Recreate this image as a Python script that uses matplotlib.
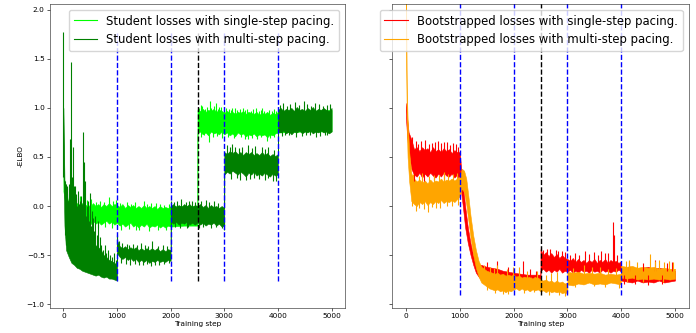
import matplotlib
matplotlib.use("Agg")
from matplotlib import pyplot as plt
from matplotlib.lines import Line2D

# ---- left panel: student losses -------------------------------------------
# bands: (step, lower edge, upper edge) of the noisy trace
lg_steps = [0, 40, 80, 150, 200, 250, 300, 350, 400, 450,
            500, 550, 600, 650, 700, 750, 800, 850, 900, 950,
            1000, 1050, 1100, 1150, 1200, 1250, 1300, 1350, 1400, 1450,
            1500, 1550, 1600, 1650, 1700, 1750, 1800, 1850, 1900, 1950,
            2000, 2250, 2499, 2500, 2550, 2600, 2650, 2700, 2750, 2800,
            2850, 2900, 2950, 3000, 3050, 3100, 3150, 3200, 3250, 3300,
            3350, 3400, 3450, 3500, 3550, 3600, 3650, 3700, 3750, 3800,
            3850, 3900, 3950, 4000, 4500, 5000]
lg_lo = [0.15, 0.0, -0.12, -0.15, -0.17, -0.14, -0.17, -0.15, -0.18, -0.16,
         -0.19, -0.15, -0.18, -0.16, -0.19, -0.17, -0.15, -0.18, -0.16, -0.19,
         -0.17, -0.2, -0.18, -0.21, -0.19, -0.17, -0.21, -0.19, -0.22, -0.19,
         -0.21, -0.18, -0.22, -0.2, -0.21, -0.19, -0.22, -0.2, -0.22, -0.2,
         -0.21, -0.2, -0.2, 0.74, 0.76, 0.73, 0.75, 0.72, 0.76, 0.74,
         0.75, 0.73, 0.76, 0.73, 0.75, 0.72, 0.74, 0.71, 0.75, 0.73,
         0.74, 0.71, 0.73, 0.72, 0.74, 0.71, 0.73, 0.72, 0.73, 0.7,
         0.73, 0.72, 0.74, 0.75, 0.76, 0.76]
lg_hi = [0.3, 0.22, 0.06, 0.02, 0.0, 0.03, 0.01, 0.03, 0.0, 0.02,
         -0.01, 0.03, 0.0, 0.02, -0.01, 0.02, 0.0, 0.03, 0.0, 0.02,
         0.01, -0.01, 0.02, -0.02, 0.01, -0.01, 0.01, -0.02, 0.0, -0.02,
         0.01, -0.02, 0.0, -0.02, 0.0, -0.03, 0.0, -0.02, -0.01, -0.02,
         0.0, 0.0, 0.0, 0.98, 0.97, 0.99, 0.96, 0.98, 0.97, 0.99,
         0.96, 0.98, 0.97, 0.95, 0.97, 0.95, 0.96, 0.94, 0.96, 0.95,
         0.97, 0.94, 0.96, 0.95, 0.94, 0.96, 0.93, 0.95, 0.94, 0.96,
         0.93, 0.95, 0.94, 0.96, 0.97, 0.98]
# spikes: (step, from, to)
lg_spk_steps = ([300, 520, 850, 1180, 1400, 1500, 1720, 2560, 2710, 2736,
                 2850, 2900, 3150, 3450, 3700, 3796]
                + [120, 180, 240, 380, 440, 600, 680, 760, 920, 980,
                   1060, 1260, 1330, 1560, 1630, 1800, 1880, 1960]
                + [160, 330, 470, 640, 780, 900, 1080, 1230, 1350, 1600, 1760, 1920]
                + [2530, 2590, 2640, 2680, 2760, 2810, 2880, 2930, 2990, 3040,
                   3090, 3130, 3190, 3240, 3290, 3340, 3390, 3430, 3490, 3540,
                   3590, 3640, 3690, 3740, 3830, 3880, 3930, 3970]
                + [2570, 2630, 2790, 2870, 2960, 3070, 3180, 3310, 3380, 3520,
                   3610, 3680, 3860, 3920])
lg_spk_lo = ([-0.05, -0.05, -0.05, -0.1, -0.24, -0.1, -0.1, 0.85, 0.65, 0.85,
              0.85, 0.85, 0.85, 0.68, 0.85, 0.66]
             + [-0.05] * 18
             + [-0.22, -0.21, -0.23, -0.22, -0.21, -0.22, -0.24, -0.23, -0.24, -0.25,
                -0.24, -0.24]
             + [0.85] * 28
             + [0.7, 0.72, 0.7, 0.71, 0.69, 0.7, 0.69, 0.7, 0.68, 0.69,
                0.68, 0.7, 0.69, 0.7])
lg_spk_hi = ([0.10, 0.07, 0.09, 0.04, -0.1, 0.05, 0.03, 1.03, 0.85, 1.07,
              1.05, 1.01, 1.0, 0.85, 1.0, 0.85]
             + [0.06, 0.05, 0.04, 0.05, 0.06, 0.04, 0.05, 0.04, 0.05, 0.06,
                0.03, 0.02, 0.04, 0.02, 0.03, 0.02, 0.01, 0.02]
             + [-0.1] * 12
             + [1.0, 1.02, 0.99, 1.01, 1.0, 1.02, 0.99, 1.01, 0.98, 1.0,
                0.99, 0.98, 1.0, 0.98, 0.99, 1.0, 0.98, 0.99, 0.97, 0.99,
                1.0, 0.97, 0.98, 0.97, 0.98, 0.97, 0.99, 0.97]
             + [0.85] * 14)

dg_steps = [0, 20, 50, 100, 150, 200, 250, 300, 350, 400,
            450, 500, 550, 600, 650, 700, 750, 800, 850, 900,
            950, 999, 1000, 1050, 1100, 1150, 1200, 1250, 1300, 1350,
            1400, 1450, 1500, 1550, 1600, 1650, 1700, 1750, 1800, 1850,
            1900, 1950, 1999, 2000, 2050, 2100, 2150, 2200, 2250, 2300,
            2350, 2400, 2450, 2500, 2550, 2600, 2650, 2700, 2750, 2800,
            2850, 2900, 2950, 2999, 3000, 3050, 3100, 3150, 3200, 3250,
            3300, 3350, 3400, 3450, 3500, 3550, 3600, 3650, 3700, 3750,
            3800, 3850, 3900, 3950, 3999, 4000, 4050, 4100, 4150, 4200,
            4250, 4300, 4350, 4400, 4450, 4500, 4550, 4600, 4650, 4700,
            4750, 4800, 4850, 4900, 4950, 5000]
dg_lo = [0.4, -0.2, -0.45, -0.52, -0.58, -0.6, -0.63, -0.64, -0.66, -0.67,
         -0.68, -0.69, -0.7, -0.71, -0.7, -0.72, -0.73, -0.72, -0.74, -0.74,
         -0.75, -0.76, -0.48, -0.52, -0.54, -0.52, -0.55, -0.53, -0.56, -0.54,
         -0.57, -0.55, -0.57, -0.55, -0.58, -0.56, -0.57, -0.55, -0.57, -0.56,
         -0.57, -0.55, -0.56, -0.16, -0.18, -0.16, -0.19, -0.17, -0.18, -0.16,
         -0.19, -0.17, -0.19, -0.17, -0.19, -0.17, -0.2, -0.18, -0.19, -0.17,
         -0.2, -0.18, -0.21, -0.2, 0.32, 0.35, 0.33, 0.36, 0.34, 0.32,
         0.35, 0.33, 0.3, 0.34, 0.32, 0.35, 0.31, 0.33, 0.31, 0.34,
         0.32, 0.3, 0.33, 0.31, 0.32, 0.76, 0.75, 0.77, 0.74, 0.76,
         0.73, 0.76, 0.75, 0.77, 0.74, 0.76, 0.75, 0.77, 0.74, 0.76,
         0.75, 0.77, 0.75, 0.76, 0.74, 0.76]
dg_hi = [1.0, 0.25, 0.15, -0.02, -0.08, -0.12, -0.18, -0.22, -0.26, -0.3,
         -0.32, -0.35, -0.38, -0.4, -0.42, -0.45, -0.5, -0.52, -0.55, -0.56,
         -0.58, -0.6, -0.35, -0.41, -0.43, -0.41, -0.44, -0.42, -0.44, -0.42,
         -0.45, -0.43, -0.45, -0.43, -0.45, -0.43, -0.45, -0.43, -0.46, -0.44,
         -0.46, -0.44, -0.45, 0.0, 0.02, -0.01, 0.01, -0.01, 0.02, 0.0,
         0.02, -0.01, 0.01, 0.0, 0.02, -0.01, 0.01, -0.02, 0.01, -0.01,
         0.0, -0.02, 0.0, -0.02, 0.55, 0.53, 0.56, 0.54, 0.56, 0.53,
         0.55, 0.52, 0.55, 0.53, 0.55, 0.52, 0.54, 0.52, 0.55, 0.52,
         0.54, 0.51, 0.53, 0.51, 0.53, 0.98, 1.0, 0.97, 0.99, 0.98,
         1.0, 0.97, 1.01, 0.98, 0.99, 0.97, 1.0, 0.98, 1.01, 0.97,
         0.99, 0.98, 1.0, 0.98, 0.97, 1.0]
dg_spk_steps = ([0, 30, 60, 85, 110, 128, 138, 160, 178, 200,
                 225, 250, 275, 300, 325, 345, 368, 380, 395, 410,
                 430, 455, 475, 490, 515, 540, 565, 590, 620, 650,
                 680, 710, 740, 770, 800, 830, 870, 910, 950, 985,
                 1000, 1300, 1450, 1647, 1850, 1400, 1700,
                 2000, 2200, 2400, 2650, 2300, 2950,
                 3050, 3200, 3450, 3700, 3400, 3650, 3900, 3960,
                 4100, 4320, 4480, 4695, 4910, 4200, 4600, 4910]
                + [1040, 1100, 1180, 1230, 1380, 1520, 1580, 1760, 1930]
                + [1070, 1160, 1250, 1330, 1480, 1560, 1640, 1780, 1880, 1970]
                + [2060, 2120, 2280, 2350, 2460, 2560, 2720, 2800, 2880]
                + [2080, 2180, 2330, 2520, 2600, 2760, 2850, 2990]
                + [3100, 3150, 3280, 3330, 3520, 3580, 3760, 3820, 3930]
                + [3120, 3230, 3300, 3480, 3560, 3760, 3820]
                + [4040, 4160, 4230, 4400, 4550, 4620, 4760, 4840, 4970]
                + [4070, 4130, 4330, 4450, 4520, 4700, 4780, 4870]
                + [45, 75, 95, 145, 190, 215, 240, 265, 290, 315, 355, 440, 505, 555])
dg_spk_lo = ([0.3, -0.3, -0.3, -0.3, -0.3, -0.3, -0.3, -0.3, -0.3, -0.3,
              -0.3, -0.4, -0.4, -0.4, -0.4, -0.4, -0.4, -0.4, -0.4, -0.4,
              -0.4, -0.4, -0.45, -0.45, -0.45, -0.45, -0.5, -0.5, -0.5, -0.5,
              -0.5, -0.55, -0.55, -0.55, -0.6, -0.6, -0.6, -0.6, -0.6, -0.62,
              -0.45, -0.45, -0.45, -0.45, -0.45, -0.5, -0.5,
              -0.1, -0.1, -0.1, -0.1, -0.1, -0.1,
              0.45, 0.45, 0.45, 0.45, 0.4, 0.4, 0.4, 0.4,
              0.85, 0.85, 0.85, 0.85, 0.85, 0.85, 0.85, 0.85]
             + [-0.5] * 9
             + [-0.58, -0.59, -0.6, -0.59, -0.6, -0.59, -0.61, -0.6, -0.59, -0.58]
             + [-0.1] * 9
             + [-0.21, -0.22, -0.21, -0.22, -0.21, -0.22, -0.21, -0.24]
             + [0.43] * 9
             + [0.28, 0.29, 0.27, 0.28, 0.29, 0.27, 0.29]
             + [0.87] * 9
             + [0.71, 0.72, 0.7, 0.71, 0.72, 0.7, 0.71, 0.72]
             + [-0.4] * 14)
dg_spk_hi = ([1.77, 0.25, 0.2, 0.05, 0.22, 0.68, 1.47, 0.3, 0.6, 0.1,
              0.2, 0.0, 0.15, -0.05, 0.1, -0.1, 0.75, 0.45, 0.0, 0.25,
              -0.1, 0.05, -0.15, 0.13, -0.2, -0.05, -0.25, -0.1, -0.3, -0.15,
              -0.32, -0.4, -0.45, -0.4, -0.48, -0.45, -0.5, -0.52, -0.48, -0.55,
              -0.3, -0.39, -0.38, -0.36, -0.4, -0.6, -0.6,
              0.05, 0.07, 0.05, 0.06, -0.22, -0.22,
              0.62, 0.6, 0.62, 0.6, 0.27, 0.28, 0.26, 0.25,
              1.05, 1.06, 1.07, 1.05, 1.03, 0.72, 0.72, 0.72]
             + [-0.36, -0.38, -0.39, -0.4, -0.4, -0.4, -0.41, -0.41, -0.41]
             + [-0.5] * 10
             + [0.04, 0.05, 0.04, 0.05, 0.04, 0.05, 0.04, 0.05, 0.03]
             + [-0.1] * 8
             + [0.6, 0.63, 0.59, 0.6, 0.59, 0.61, 0.58, 0.6, 0.57]
             + [0.43] * 7
             + [1.03, 1.02, 1.04, 1.03, 1.04, 1.02, 1.04, 1.02, 1.04]
             + [0.87] * 8
             + [0.22, 0.12, 0.18, 0.1, 0.2, 0.05, 0.12, 0.08, 0.02, 0.05, 0.02, 0.0, -0.08, -0.12])

# ---- right panel: bootstrapped losses -------------------------------------
red_steps = [0, 20, 50, 100, 150, 200, 250, 300, 350, 400,
             450, 500, 550, 600, 650, 700, 750, 800, 850, 900,
             950, 1000, 1030, 1060, 1100, 1150, 1200, 1250, 1300, 1350,
             1400, 1500, 1600, 1700, 1800, 1900, 2000, 2250, 2499, 2500,
             2550, 2600, 2650, 2700, 2750, 2800, 2850, 2900, 2950, 3000,
             3050, 3100, 3150, 3200, 3250, 3300, 3350, 3400, 3450, 3500,
             3550, 3600, 3650, 3700, 3750, 3800, 3850, 3900, 3950, 3999,
             4000, 4100, 4200, 4300, 4400, 4500, 4600, 4700, 4800, 4900,
             5000]
red_lo = [0.9, 0.72, 0.55, 0.38, 0.32, 0.3, 0.34, 0.29, 0.33, 0.3,
          0.34, 0.31, 0.29, 0.33, 0.3, 0.34, 0.31, 0.3, 0.33, 0.29,
          0.32, 0.25, 0.12, -0.02, -0.22, -0.38, -0.5, -0.6, -0.68, -0.72,
          -0.75, -0.77, -0.78, -0.78, -0.79, -0.8, -0.8, -0.8, -0.8, -0.66,
          -0.64, -0.67, -0.65, -0.68, -0.65, -0.67, -0.64, -0.68, -0.66, -0.67,
          -0.65, -0.68, -0.66, -0.68, -0.65, -0.67, -0.66, -0.68, -0.65, -0.67,
          -0.66, -0.68, -0.65, -0.67, -0.66, -0.68, -0.66, -0.67, -0.65, -0.67,
          -0.76, -0.77, -0.78, -0.76, -0.78, -0.77, -0.78, -0.76, -0.78, -0.77,
          -0.76]
red_hi = [1.05, 0.9, 0.75, 0.68, 0.58, 0.6, 0.56, 0.6, 0.57, 0.59,
          0.55, 0.6, 0.56, 0.58, 0.55, 0.59, 0.56, 0.58, 0.54, 0.57,
          0.55, 0.55, 0.35, 0.2, 0.0, -0.22, -0.38, -0.5, -0.56, -0.6,
          -0.6, -0.62, -0.63, -0.64, -0.66, -0.67, -0.68, -0.7, -0.7, -0.44,
          -0.5, -0.47, -0.51, -0.48, -0.52, -0.49, -0.53, -0.5, -0.53, -0.54,
          -0.56, -0.53, -0.57, -0.54, -0.57, -0.55, -0.58, -0.55, -0.57, -0.54,
          -0.58, -0.55, -0.57, -0.54, -0.58, -0.55, -0.57, -0.56, -0.58, -0.56,
          -0.62, -0.63, -0.62, -0.64, -0.63, -0.62, -0.64, -0.63, -0.64, -0.65,
          -0.66]
red_spk_steps = ([180, 350, 480, 600, 760, 880,
                  1500, 1700, 1900, 2168, 2300, 2420, 2500,
                  2620, 2780, 2900, 3150, 3320, 3500, 3620, 3760, 3843, 3870,
                  4150, 4400, 4620, 4850, 4950]
                 + [120, 230, 280, 420, 540, 660, 710, 820, 930, 970]
                 + [150, 330, 520, 700]
                 + [2550, 2680, 2830, 2960, 3050, 3220, 3400, 3560, 3700, 3930]
                 + [4050, 4250, 4500, 4750])
red_spk_lo = ([0.5, 0.5, 0.5, 0.5, 0.5, 0.5,
               -0.65, -0.65, -0.68, -0.7, -0.72, -0.72, -0.5,
               -0.55, -0.55, -0.55, -0.58, -0.58, -0.58, -0.58, -0.58, -0.58, -0.58,
               -0.66, -0.66, -0.66, -0.66, -0.66]
              + [0.45] * 10
              + [0.26, 0.26, 0.27, 0.28]
              + [-0.6] * 10
              + [-0.8, -0.8, -0.81, -0.8])
red_spk_hi = ([0.66, 0.67, 0.64, 0.66, 0.65, 0.64,
               -0.57, -0.56, -0.62, -0.56, -0.64, -0.66, -0.42,
               -0.44, -0.45, -0.46, -0.48, -0.46, -0.47, -0.46, -0.48, -0.16, -0.3,
               -0.56, -0.58, -0.55, -0.58, -0.57]
              + [0.7, 0.63, 0.66, 0.63, 0.65, 0.64, 0.65, 0.62, 0.63, 0.6]
              + [0.45] * 4
              + [-0.45, -0.44, -0.46, -0.47, -0.5, -0.5, -0.49, -0.5, -0.48, -0.5]
              + [-0.7] * 4)

or_steps = [0, 5, 15, 30, 60, 100, 150, 200, 250, 300,
            350, 400, 450, 500, 550, 600, 650, 700, 750, 800,
            850, 900, 950, 1000, 1040, 1080, 1120, 1160, 1200, 1250,
            1300, 1350, 1400, 1450, 1500, 1550, 1600, 1650, 1700, 1750,
            1800, 1850, 1900, 1950, 2000, 2050, 2100, 2150, 2200, 2250,
            2300, 2350, 2400, 2450, 2500, 2550, 2600, 2650, 2700, 2750,
            2800, 2850, 2900, 2950, 2999, 3000, 3100, 3200, 3300, 3400,
            3500, 3600, 3700, 3800, 3900, 3999, 4000, 4100, 4200, 4300,
            4400, 4500, 4600, 4700, 4800, 4900, 5000]
or_lo = [2.2, 1.4, 0.85, 0.5, 0.25, 0.05, 0.02, 0.0, 0.04, 0.02,
         0.05, 0.01, 0.04, 0.02, 0.05, 0.03, 0.06, 0.03, 0.05, 0.04,
         0.06, 0.04, 0.07, 0.1, 0.18, 0.14, 0.02, -0.15, -0.32, -0.5,
         -0.63, -0.72, -0.78, -0.8, -0.82, -0.84, -0.85, -0.86, -0.85, -0.87,
         -0.86, -0.88, -0.86, -0.87, -0.85, -0.84, -0.86, -0.84, -0.86, -0.85,
         -0.87, -0.85, -0.86, -0.85, -0.87, -0.86, -0.88, -0.86, -0.88, -0.87,
         -0.88, -0.87, -0.89, -0.88, -0.89, -0.8, -0.81, -0.79, -0.8, -0.78,
         -0.8, -0.79, -0.8, -0.78, -0.79, -0.8, -0.73, -0.74, -0.73, -0.75,
         -0.74, -0.75, -0.74, -0.75, -0.74, -0.75, -0.74]
or_hi = [2.4, 2.0, 1.2, 0.9, 0.55, 0.33, 0.28, 0.25, 0.27, 0.24,
         0.26, 0.23, 0.27, 0.24, 0.26, 0.25, 0.28, 0.25, 0.27, 0.26,
         0.28, 0.26, 0.28, 0.3, 0.38, 0.36, 0.28, 0.1, -0.1, -0.3,
         -0.45, -0.56, -0.62, -0.64, -0.66, -0.67, -0.68, -0.69, -0.68, -0.7,
         -0.69, -0.71, -0.7, -0.71, -0.7, -0.72, -0.71, -0.73, -0.72, -0.73,
         -0.72, -0.74, -0.72, -0.73, -0.75, -0.76, -0.75, -0.77, -0.76, -0.78,
         -0.76, -0.78, -0.77, -0.79, -0.78, -0.67, -0.68, -0.67, -0.69, -0.68,
         -0.69, -0.68, -0.7, -0.69, -0.7, -0.69, -0.61, -0.62, -0.61, -0.63,
         -0.62, -0.63, -0.62, -0.64, -0.63, -0.64, -0.64]
or_spk_steps = ([180, 410, 560, 300, 700, 880,
                 1700, 1800, 2100, 2440, 2800, 2950,
                 3300, 3600, 4150, 4540, 4700, 4880]
                + [130, 240, 420, 520, 620, 780, 940]
                + [120, 250, 330, 480, 640, 760, 860, 960]
                + [1450, 1560, 1640, 1880, 1980, 2250, 2600, 2700]
                + [1500, 1650, 1900, 2200, 2380, 2650, 2850]
                + [3100, 3450, 3750, 3900]
                + [3150, 3500, 3700, 3950]
                + [4080, 4300, 4620, 4800, 4960]
                + [4100, 4400, 4780])
or_spk_lo = ([0.15, 0.15, 0.15, 0.15, 0.15, 0.15,
              -0.75, -0.8, -0.78, -0.78, -0.82, -0.85,
              -0.72, -0.72, -0.67, -0.67, -0.67, -0.67]
             + [0.15] * 7
             + [0.0, -0.02, -0.03, -0.01, -0.02, 0.0, 0.0, 0.01]
             + [-0.78] * 8
             + [-0.86, -0.89, -0.9, -0.89, -0.88, -0.91, -0.91]
             + [-0.74] * 4
             + [-0.83, -0.82, -0.83, -0.84]
             + [-0.68] * 5
             + [-0.77, -0.77, -0.77])
or_spk_hi = ([-0.05, -0.06, -0.02, 0.34, 0.35, 0.33,
              -0.6, -0.9, -0.62, -0.66, -0.67, -0.92,
              -0.6, -0.62, -0.55, -0.49, -0.55, -0.56]
             + [0.33, 0.31, 0.31, 0.32, 0.32, 0.33, 0.34]
             + [0.15] * 8
             + [-0.6, -0.62, -0.63, -0.64, -0.62, -0.66, -0.7, -0.68]
             + [-0.78] * 7
             + [-0.63, -0.62, -0.64, -0.63]
             + [-0.74] * 4
             + [-0.56, -0.57, -0.56, -0.57, -0.57]
             + [-0.68] * 3)

pace_steps = [1000, 2000, 3000, 4000]
switch_step = 2500
legend_left = ["Student losses with single-step pacing.",
               "Student losses with multi-step pacing."]
legend_right = ["Bootstrapped losses with single-step pacing.",
                "Bootstrapped losses with multi-step pacing."]

LW = 0.8
plt.rcParams["font.size"] = 5.3
plt.rcParams["axes.linewidth"] = 0.45
for k in ("xtick", "ytick"):
    plt.rcParams[k + ".major.size"] = 1.9
    plt.rcParams[k + ".major.width"] = 0.45
    plt.rcParams[k + ".major.pad"] = 1.9


def draw_band(ax, steps, lo, hi, sx, slo, shi, color):
    ax.fill_between(steps, lo, hi, color=color, lw=0.4)
    ax.vlines(sx, slo, shi, colors=color, lw=LW)


def draw_pacing(ax, ymin, ymax):
    ax.vlines(pace_steps, ymin, ymax, colors="blue", linestyles="dashed", lw=1.0)
    ax.vlines([switch_step], ymin, ymax, colors="black", linestyles="dashed", lw=1.0)


fig = plt.figure(figsize=(6.96, 3.33), dpi=100)
ax1 = fig.add_axes([50 / 696, 25 / 333, 295 / 696, 304 / 333])
ax2 = fig.add_axes([392.5 / 696, 25 / 333, 296 / 696, 304 / 333], sharey=ax1)

draw_band(ax1, lg_steps, lg_lo, lg_hi, lg_spk_steps, lg_spk_lo, lg_spk_hi, "lime")
draw_band(ax1, dg_steps, dg_lo, dg_hi, dg_spk_steps, dg_spk_lo, dg_spk_hi, "green")
draw_pacing(ax1, -0.76, 1.78)

draw_band(ax2, red_steps, red_lo, red_hi, red_spk_steps, red_spk_lo, red_spk_hi, "red")
draw_band(ax2, or_steps, or_lo, or_hi, or_spk_steps, or_spk_lo, or_spk_hi, "orange")
draw_pacing(ax2, -0.91, 2.4)

for ax in (ax1, ax2):
    ax.set_xlim(-250, 5250)
    ax.set_xticks([0, 1000, 2000, 3000, 4000, 5000])
    ax.set_xlabel("Training step", labelpad=1.5)
    for s in ax.spines.values():
        s.set_color("#333333")
ax1.set_ylim(-1.04, 2.06)
ax1.set_yticks([-1.0, -0.5, 0.0, 0.5, 1.0, 1.5, 2.0])
ax1.set_ylabel("-ELBO", labelpad=2)
ax2.tick_params(axis="y", labelleft=False)

h1 = [Line2D([], [], color=c, lw=LW) for c in ("lime", "green")]
h2 = [Line2D([], [], color=c, lw=LW) for c in ("red", "orange")]
ax1.legend(h1, legend_left, loc="upper right", fontsize=8.4)
ax2.legend(h2, legend_right, loc="upper right", fontsize=8.4)

fig.savefig("out.png", dpi=100)
